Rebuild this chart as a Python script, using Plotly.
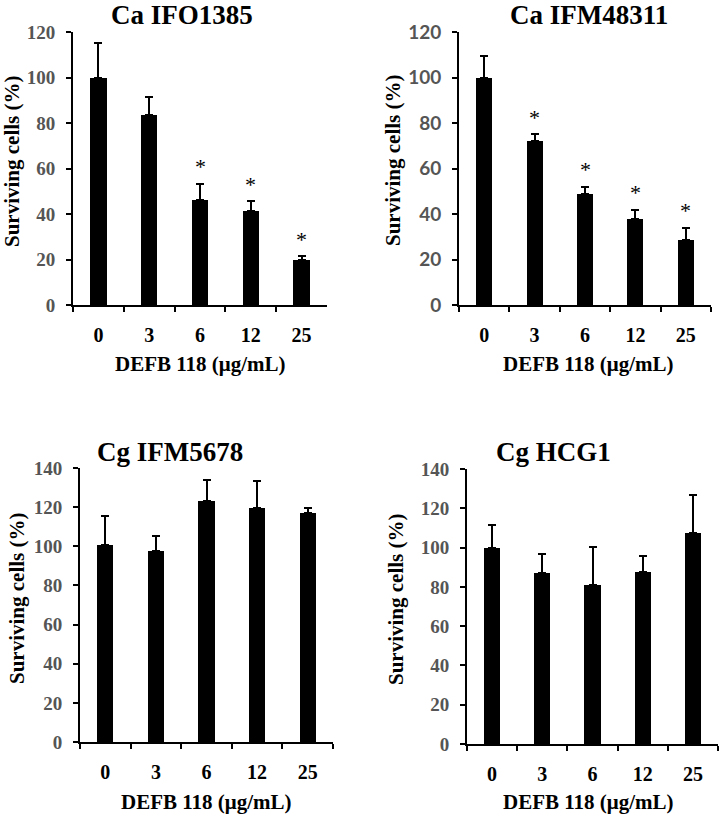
import plotly.graph_objects as go

W, H = 722, 816

doses = ["0", "3", "6", "12", "25"]

titles = ["Ca IFO1385", "Ca IFM48311", "Cg IFM5678", "Cg HCG1"]

ca_ifo1385_mean = [100, 83.5, 46, 41.2, 20]
ca_ifo1385_err = [15.3, 7.8, 7.3, 4.4, 1.5]
ca_ifo1385_sig = [False, False, True, True, True]

ca_ifm48311_mean = [100, 72, 49, 38, 28.5]
ca_ifm48311_err = [9.5, 3, 3, 3.8, 5.5]
ca_ifm48311_sig = [False, True, True, True, True]

cg_ifm5678_mean = [100.9, 97.5, 123, 119.8, 117]
cg_ifm5678_err = [14.5, 7.8, 10.7, 13.4, 2.4]
cg_ifm5678_sig = [False, False, False, False, False]

cg_hcg1_mean = [100, 87.2, 81.2, 87.5, 107.4]
cg_hcg1_err = [11.3, 9.6, 19, 8, 19.5]
cg_hcg1_sig = [False, False, False, False, False]

y_ticks_top = [0, 20, 40, 60, 80, 100, 120]
y_ticks_bottom = [0, 20, 40, 60, 80, 100, 120, 140]

x_title = "DEFB 118 (μg/mL)"
y_title = "Surviving cells (%)"

SERIF = "Liberation Serif, Times New Roman, serif"
SANS = "Lato, Liberation Sans, Arial, sans-serif"

panels = [
    dict(mean=ca_ifo1385_mean, err=ca_ifo1385_err, sig=ca_ifo1385_sig, title=titles[0],
         px=(73, 327), py=(32, 305), ymax=120, ticks=y_ticks_top, tickfont=SERIF,
         tpos=(182, 15), xtpos=(200, 364), ytpos=(12, 161)),
    dict(mean=ca_ifm48311_mean, err=ca_ifm48311_err, sig=ca_ifm48311_sig, title=titles[1],
         px=(459, 711), py=(32, 305), ymax=120, ticks=y_ticks_top, tickfont=SANS,
         tpos=(589, 15), xtpos=(588, 364), ytpos=(393, 160)),
    dict(mean=cg_ifm5678_mean, err=cg_ifm5678_err, sig=cg_ifm5678_sig, title=titles[2],
         px=(80, 333), py=(468, 742), ymax=140, ticks=y_ticks_bottom, tickfont=SERIF,
         tpos=(170, 452), xtpos=(206, 802), ytpos=(17, 598)),
    dict(mean=cg_hcg1_mean, err=cg_hcg1_err, sig=cg_hcg1_sig, title=titles[3],
         px=(467, 718), py=(469, 744), ymax=140, ticks=y_ticks_bottom, tickfont=SERIF,
         tpos=(553, 452), xtpos=(588, 802), ytpos=(396, 599)),
]

fig = go.Figure()
annotations = []

for i, p in enumerate(panels, start=1):
    xa = "x" if i == 1 else f"x{i}"
    ya = "y" if i == 1 else f"y{i}"
    fig.add_trace(go.Bar(
        x=doses, y=p["mean"], xaxis=xa, yaxis=ya, width=0.32,
        marker=dict(color="black", line=dict(width=0)),
        error_y=dict(type="data", array=p["err"], arrayminus=[0] * len(p["err"]),
                     symmetric=False, color="black", thickness=2, width=4),
        showlegend=False, hoverinfo="skip",
    ))
    x0, x1 = p["px"]
    y0, y1 = p["py"]
    xkey = "xaxis" if i == 1 else f"xaxis{i}"
    ykey = "yaxis" if i == 1 else f"yaxis{i}"
    fig.update_layout(**{
        xkey: dict(domain=[x0 / W, x1 / W], anchor=ya, type="category", automargin=False,
                   range=[-0.5, 4.5], showline=True, linecolor="black", linewidth=2,
                   ticks="outside", tickson="boundaries", ticklen=5, tickwidth=2,
                   tickcolor="black", showgrid=False, zeroline=False, ticklabelstandoff=11,
                   tickfont=dict(family=SERIF, size=20, color="black", weight="bold")),
        ykey: dict(domain=[1 - y1 / H, 1 - y0 / H], anchor=xa, range=[0, p["ymax"]],
                   automargin=False, ticklabelstandoff=7,
                   tickvals=p["ticks"], showline=True, linecolor="black", linewidth=2,
                   ticks="outside", ticklen=5, tickwidth=2, tickcolor="black",
                   showgrid=False, zeroline=False,
                   tickfont=dict(family=p["tickfont"], size=19, color="#555555", weight="bold")),
    })
    annotations.append(dict(text=p["title"], x=p["tpos"][0] / W, y=1 - p["tpos"][1] / H,
                            xref="paper", yref="paper", showarrow=False,
                            xanchor="center", yanchor="middle",
                            font=dict(family=SERIF, size=27, color="black", weight="bold")))
    annotations.append(dict(text=x_title, x=p["xtpos"][0] / W, y=1 - p["xtpos"][1] / H,
                            xref="paper", yref="paper", showarrow=False,
                            xanchor="center", yanchor="middle",
                            font=dict(family=SERIF, size=21, color="black", weight="bold")))
    annotations.append(dict(text=y_title, x=p["ytpos"][0] / W, y=1 - p["ytpos"][1] / H,
                            xref="paper", yref="paper", showarrow=False, textangle=-90,
                            xanchor="center", yanchor="middle",
                            font=dict(family=SERIF, size=21, color="black", weight="bold")))
    for j, (m, e, s) in enumerate(zip(p["mean"], p["err"], p["sig"])):
        if s:
            annotations.append(dict(text="*", x=j, y=m + e, xref=xa, yref=ya,
                                    showarrow=False, yanchor="middle", yshift=17,
                                    font=dict(family=SERIF, size=22, color="black")))

fig.update_layout(template="none", width=W, height=H, margin=dict(l=0, r=0, t=0, b=0),
                  paper_bgcolor="white", plot_bgcolor="white",
                  annotations=annotations, showlegend=False, bargap=0)

fig.write_html("out.html", config={"displayModeBar": False},
               post_script="document.body.style.margin='0';")
